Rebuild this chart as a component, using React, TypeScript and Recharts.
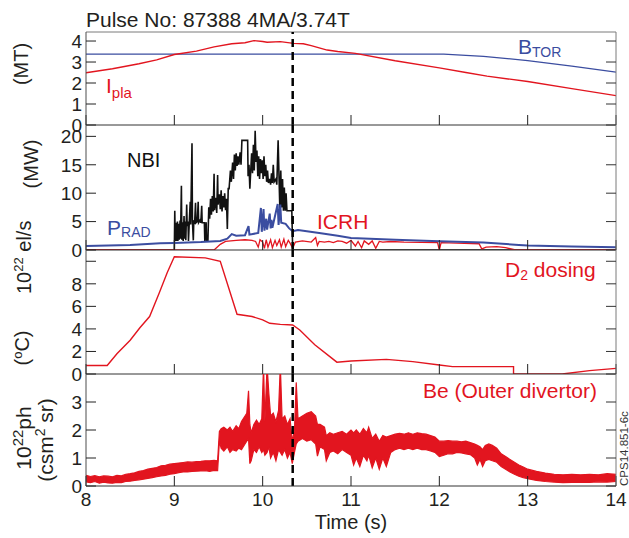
import React from 'react';
import { LineChart, ComposedChart, Line, Area, XAxis, YAxis, ReferenceLine } from 'recharts';

const FONT = '"Liberation Sans", Arial, Helvetica, sans-serif';
const RED = '#e2151f';
const BLUE = '#3b4da0';
const INK = '#231f20';
const AXIS_L = '#4d4d4d';
const AXIS_R = '#7a7a7a';

const W = 629;

// time axis
const timeTicks = [8, 9, 10, 11, 12, 13, 14];
const markerTime = 10.34;

// panel tick sets
const fieldTicks = [0, 1, 2, 3, 4];
const powerTicks = [0, 5, 10, 15, 20];
const dosingTicks = [0, 2, 4, 6, 8, 10];
const beTicks = [0, 1, 2, 3];

// (MT) panel
const ipla: [number, number][] = [
  [8, 2.49], [8.3, 2.68], [8.6, 2.92], [8.8, 3.1], [9.0, 3.36], [9.25, 3.52], [9.45, 3.72],
  [9.65, 3.87], [9.8, 3.92], [9.9, 4.02], [10.0, 3.98], [10.05, 3.94], [10.2, 3.97], [10.35, 3.89],
  [10.46, 3.87], [10.55, 3.78], [10.65, 3.66], [10.73, 3.57], [10.85, 3.5], [11.05, 3.41],
  [11.5, 3.06], [12.0, 2.72], [12.3, 2.5], [12.54, 2.33], [13.0, 2.07], [13.5, 1.73], [14, 1.4],
];
const btor: [number, number][] = [
  [8, 3.38], [12.05, 3.38], [12.5, 3.27], [13, 3.07], [13.5, 2.8], [14, 2.52],
];

// (MW) panel
const nbi: [number, number][] = [
  [8, 0], [9.0, 0], [9.005, 6.9], [9.01, 1.6], [9.02, 4.8], [9.025, 1.6], [9.035, 5.0], [9.04, 1.6],
  [9.05, 4.6], [9.055, 1.8], [9.065, 5.2], [9.07, 2.0], [9.08, 11.3], [9.085, 1.8], [9.095, 4.9],
  [9.1, 1.6], [9.11, 6.0], [9.115, 2.0], [9.125, 5.0], [9.13, 1.7], [9.14, 8.0], [9.145, 4.2],
  [9.155, 5.0], [9.16, 1.6], [9.17, 5.2], [9.18, 8.5], [9.185, 4.5], [9.2, 18.8], [9.205, 5.0],
  [9.215, 1.7], [9.22, 5.0], [9.23, 4.8], [9.24, 8.3], [9.245, 4.8], [9.26, 5.0], [9.27, 8.5],
  [9.275, 4.8], [9.29, 5.2], [9.3, 4.8], [9.31, 7.8], [9.315, 4.8], [9.34, 4.8], [9.345, 1.6],
  [9.36, 4.9], [9.365, 1.6], [9.38, 1.6], [9.39, 7.5], [9.4, 5.5], [9.41, 9.0], [9.42, 6.2],
  [9.43, 9.5], [9.44, 6.8], [9.45, 13.4], [9.455, 7.0], [9.47, 9.2], [9.48, 6.5], [9.49, 13.2],
  [9.495, 8.0], [9.51, 9.8], [9.52, 7.2], [9.53, 10.5], [9.54, 6.8], [9.55, 9.5], [9.56, 7.5],
  [9.57, 10.0], [9.58, 7.0], [9.59, 9.0], [9.6, 3.7], [9.61, 10.8], [9.62, 10.8], [9.635, 14.0],
  [9.645, 12.0], [9.66, 15.4], [9.67, 12.5], [9.68, 16.8], [9.69, 14.0], [9.7, 17.0], [9.71, 14.8],
  [9.72, 16.5], [9.73, 15.0], [9.745, 17.2], [9.755, 15.0], [9.765, 19.3], [9.83, 19.3],
  [9.835, 13.0], [9.845, 15.0], [9.855, 10.8], [9.865, 14.0], [9.875, 17.0], [9.885, 13.5],
  [9.895, 18.5], [9.905, 14.0], [9.915, 21.0], [9.925, 15.5], [9.935, 17.5], [9.945, 13.0],
  [9.955, 16.5], [9.965, 12.5], [9.975, 16.0], [9.985, 13.5], [9.995, 15.8], [10.005, 12.5],
  [10.015, 16.5], [10.025, 13.0], [10.035, 15.0], [10.045, 12.0], [10.055, 14.0], [10.065, 11.8],
  [10.08, 12.5], [10.09, 11.5], [10.1, 13.5], [10.11, 11.8], [10.12, 15.0], [10.13, 12.0],
  [10.15, 12.5], [10.16, 11.5], [10.175, 19.3], [10.185, 13.0], [10.195, 7.0], [10.205, 14.0],
  [10.215, 7.5], [10.225, 12.5], [10.235, 6.9], [10.245, 11.0], [10.255, 6.9], [10.265, 10.0],
  [10.275, 6.9], [10.33, 6.9], [10.34, 0], [14, 0],
];
const prad: [number, number][] = [
  [8, 0.7], [8.5, 0.9], [8.84, 1.18], [9.0, 1.25], [9.3, 1.4], [9.52, 1.6], [9.6, 2.0], [9.65, 2.8],
  [9.7, 2.5], [9.8, 2.6], [9.84, 4.2], [9.85, 2.7], [9.95, 3.0], [9.98, 7.4], [9.99, 3.2],
  [10.01, 7.2], [10.02, 3.4], [10.04, 5.5], [10.05, 3.6], [10.08, 6.4], [10.09, 3.8], [10.1, 5.3],
  [10.11, 3.9], [10.17, 8.1], [10.18, 4.4], [10.2, 8.0], [10.21, 4.8], [10.26, 4.6], [10.3, 3.8],
  [10.34, 3.3], [10.4, 3.5], [10.5, 3.3], [10.64, 3.0], [10.85, 2.5], [11.0, 2.1], [11.5, 1.8],
  [12.0, 1.55], [12.5, 1.3], [12.9, 0.9], [13.0, 0.8], [13.5, 0.6], [14, 0.5],
];
const icrh: [number, number][] = [
  [8, 0], [9.45, 0], [9.52, 1.0], [9.58, 1.5], [9.7, 1.7], [9.8, 1.8], [9.88, 1.7], [9.92, 1.5],
  [9.95, 0.5], [9.97, 1.8], [10.0, 1.4], [10.02, 0.3], [10.04, 1.8], [10.06, 0.5], [10.09, 1.8],
  [10.11, 0.4], [10.14, 1.7], [10.16, 0.8], [10.19, 1.8], [10.21, 0.5], [10.24, 1.9], [10.26, 0.6],
  [10.29, 1.7], [10.31, 1.2], [10.34, 0.3], [10.37, 1.4], [10.45, 1.6], [10.55, 1.4], [10.6, 2.2],
  [10.62, 0.8], [10.64, 1.5], [10.7, 1.4], [10.75, 1.5], [10.8, 1.3], [10.85, 1.6], [10.9, 1.5],
  [10.95, 1.2], [11.0, 1.7], [11.05, 0.7], [11.08, 1.5], [11.12, 0.4], [11.15, 1.6], [11.2, 1.0],
  [11.24, 1.6], [11.28, 0.3], [11.32, 1.5], [11.36, 1.4], [11.45, 1.5], [11.6, 1.4], [11.8, 1.35],
  [11.98, 1.3], [12.0, 0], [12.02, 1.3], [12.2, 1.2], [12.45, 1.1], [12.48, 0.2], [12.53, 0.5],
  [12.65, 0.6], [12.75, 0.4], [12.85, 0.05], [13.0, 0], [14, 0],
];

// D2 dosing panel
const d2: [number, number][] = [
  [8, 0.75], [8.24, 0.75], [8.35, 1.8], [8.5, 3.0], [8.61, 4.1], [8.72, 5.1], [8.83, 7.2],
  [8.92, 9.0], [9.0, 10.4], [9.35, 10.3], [9.52, 10.0], [9.71, 5.3], [9.88, 5.1], [10.0, 4.8],
  [10.08, 4.5], [10.2, 4.4], [10.34, 4.35], [10.42, 3.9], [10.59, 2.6], [10.84, 1.05], [11.0, 1.15],
  [11.4, 1.3], [11.7, 1.1], [12.0, 0.8], [12.15, 0.65], [12.84, 0.65], [12.84, 0], [13.39, 0],
  [13.7, 0.3], [14, 0.5],
];

// Be (outer divertor) band: [time, low, high]
const be: [number, number, number][] = [
  [8.0, 0.15, 0.38], [8.05, 0.12, 0.34], [8.1, 0.16, 0.37], [8.15, 0.1, 0.33], [8.2, 0.14, 0.36],
  [8.25, 0.11, 0.35], [8.3, 0.1, 0.33], [8.35, 0.13, 0.38], [8.4, 0.12, 0.36], [8.45, 0.16, 0.42],
  [8.5, 0.17, 0.44], [8.55, 0.2, 0.47], [8.6, 0.22, 0.52], [8.65, 0.24, 0.55], [8.7, 0.27, 0.6],
  [8.75, 0.3, 0.63], [8.8, 0.33, 0.66], [8.85, 0.36, 0.72], [8.9, 0.38, 0.74], [8.95, 0.42, 0.78],
  [9.0, 0.44, 0.8], [9.05, 0.48, 0.82], [9.1, 0.5, 0.84], [9.15, 0.5, 0.86], [9.2, 0.52, 0.85],
  [9.25, 0.53, 0.87], [9.3, 0.54, 0.88], [9.35, 0.55, 0.9], [9.4, 0.52, 0.9], [9.45, 0.56, 0.92],
  [9.49, 0.55, 0.9], [9.51, 1.6, 1.95], [9.53, 1.35, 2.05], [9.56, 1.25, 2.1], [9.6, 1.4, 2.0],
  [9.63, 1.2, 2.1], [9.66, 1.3, 1.95], [9.7, 1.25, 2.15], [9.73, 1.35, 2.05], [9.76, 1.3, 2.3],
  [9.8, 1.5, 2.5], [9.82, 1.6, 2.6], [9.84, 1.7, 3.4], [9.855, 0.8, 2.2], [9.87, 0.9, 1.9],
  [9.9, 1.3, 2.2], [9.93, 1.2, 2.35], [9.96, 1.4, 2.2], [9.99, 1.2, 2.4], [10.01, 1.3, 4.3],
  [10.025, 1.1, 2.3], [10.05, 1.2, 4.3], [10.07, 1.4, 3.3], [10.09, 1.0, 2.5], [10.12, 1.2, 2.6],
  [10.15, 0.9, 2.3], [10.18, 1.3, 2.7], [10.2, 1.2, 4.3], [10.22, 1.1, 2.4], [10.25, 1.3, 2.5],
  [10.28, 1.0, 2.2], [10.31, 1.2, 2.4], [10.335, 0.8, 1.6], [10.36, 1.2, 2.0], [10.38, 1.5, 3.7],
  [10.4, 1.6, 2.4], [10.45, 1.7, 2.5], [10.5, 1.6, 2.6], [10.55, 1.65, 2.65], [10.6, 1.5, 2.5],
  [10.62, 1.07, 2.2], [10.65, 1.4, 2.2], [10.7, 1.3, 2.1], [10.72, 0.9, 1.8], [10.76, 1.2, 1.9],
  [10.8, 1.25, 1.85], [10.85, 1.15, 1.9], [10.9, 1.3, 1.95], [10.95, 1.2, 1.85], [11.0, 1.1, 2.0],
  [11.03, 0.75, 1.9], [11.06, 1.0, 2.0], [11.1, 0.7, 1.85], [11.14, 1.1, 2.05], [11.18, 0.9, 1.9],
  [11.2, 1.1, 2.1], [11.24, 0.65, 1.7], [11.28, 1.0, 1.85], [11.32, 0.6, 1.6], [11.36, 1.0, 1.8],
  [11.4, 0.7, 1.75], [11.45, 1.2, 1.8], [11.5, 1.3, 1.85], [11.55, 1.35, 1.88], [11.6, 1.3, 1.85],
  [11.65, 1.35, 1.9], [11.7, 1.3, 1.85], [11.75, 1.35, 1.9], [11.8, 1.3, 1.87], [11.85, 1.3, 1.85],
  [11.9, 1.25, 1.8], [11.95, 1.2, 1.75], [12.0, 1.05, 1.6], [12.05, 1.1, 1.6], [12.1, 1.15, 1.62],
  [12.15, 1.15, 1.6], [12.2, 1.2, 1.6], [12.25, 1.18, 1.58], [12.3, 1.15, 1.6], [12.35, 1.12, 1.55],
  [12.4, 1.0, 1.5], [12.43, 0.75, 1.45], [12.46, 0.95, 1.4], [12.49, 0.7, 1.3], [12.52, 0.9, 1.45],
  [12.56, 0.95, 1.5], [12.6, 0.9, 1.45], [12.65, 0.85, 1.35], [12.7, 0.7, 1.15], [12.75, 0.6, 1.05],
  [12.8, 0.5, 0.95], [12.85, 0.42, 0.85], [12.9, 0.35, 0.75], [12.95, 0.3, 0.68], [13.0, 0.26, 0.6],
  [13.1, 0.2, 0.52], [13.2, 0.16, 0.46], [13.3, 0.14, 0.42], [13.4, 0.12, 0.4], [13.5, 0.13, 0.42],
  [13.6, 0.14, 0.4], [13.7, 0.13, 0.42], [13.8, 0.15, 0.4], [13.9, 0.14, 0.44], [14.0, 0.16, 0.42],
];

const pts = (a: [number, number][]) => a.map(([t, v]) => ({ t, v }));
const bePts = be.map(([t, lo, hi]) => ({ t, r: [lo, hi] }));

const tickStyle = { fill: INK, fontSize: 19, fontFamily: FONT };
const blank = () => '';

const xAxisFor = (labels: boolean, h: number) => (
  <XAxis
    xAxisId="t"
    type="number"
    dataKey="t"
    domain={[8, 14]}
    ticks={timeTicks}
    interval={0}
    allowDataOverflow
    height={h}
    tickSize={-10}
    tickMargin={17}
    stroke="#333"
    tickLine={{ stroke: '#222' }}
    tick={tickStyle}
    tickFormatter={labels ? undefined : blank}
  />
);

const yAxesFor = (max: number, ticks: number[], fmt?: (v: number) => string) => [
  <YAxis
    key="l"
    yAxisId="l"
    type="number"
    domain={[0, max]}
    ticks={ticks}
    interval={0}
    allowDataOverflow
    width={86}
    tickSize={-10}
    tickMargin={14}
    stroke={AXIS_L}
    tickLine={{ stroke: '#222' }}
    tick={tickStyle}
    tickFormatter={fmt}
  />,
  <YAxis
    key="r"
    yAxisId="r"
    orientation="right"
    type="number"
    domain={[0, max]}
    ticks={ticks}
    interval={0}
    allowDataOverflow
    width={13}
    tickSize={-10}
    tickMargin={4}
    stroke={AXIS_R}
    tickLine={{ stroke: '#333' }}
    tick={tickStyle}
    tickFormatter={blank}
  />,
];

const marker = (
  <ReferenceLine
    xAxisId="t"
    yAxisId="l"
    x={markerTime}
    stroke="#000"
    strokeWidth={2.5}
    strokeDasharray="8 5"
  />
);

const layer: React.CSSProperties = { position: 'absolute', left: 0, top: 0 };

export default function App() {
  return (
    <div style={{ position: 'absolute', left: 0, top: 0, width: W, height: 538, background: '#fff', fontFamily: FONT }}>
      {/* Panel 1: field & current */}
      <div style={layer}>
        <LineChart width={W} height={150} margin={{ top: 32, right: 0, bottom: 0, left: 0 }}>
          {xAxisFor(false, 25)}
          {yAxesFor(4.43, fieldTicks)}
          <ReferenceLine xAxisId="t" yAxisId="l" y={4.43} stroke={AXIS_R} />
          <Line xAxisId="t" yAxisId="l" data={pts(btor)} dataKey="v" type="linear" stroke={BLUE} strokeWidth={1.2} dot={false} isAnimationActive={false} />
          <Line xAxisId="t" yAxisId="l" data={pts(ipla)} dataKey="v" type="linear" stroke={RED} strokeWidth={1.4} dot={false} isAnimationActive={false} />
          {marker}
        </LineChart>
      </div>

      {/* Panel 2: heating powers */}
      <div style={layer}>
        <LineChart width={W} height={275} margin={{ top: 125, right: 0, bottom: 0, left: 0 }}>
          {xAxisFor(false, 25)}
          {yAxesFor(22, powerTicks)}
          <Line xAxisId="t" yAxisId="l" data={pts(nbi)} dataKey="v" type="linear" stroke="#111" strokeWidth={1.6} dot={false} isAnimationActive={false} />
          <Line xAxisId="t" yAxisId="l" data={pts(icrh)} dataKey="v" type="linear" stroke={RED} strokeWidth={1.3} dot={false} isAnimationActive={false} />
          <Line xAxisId="t" yAxisId="l" data={pts(prad)} dataKey="v" type="linear" stroke={BLUE} strokeWidth={2} dot={false} isAnimationActive={false} />
          {marker}
        </LineChart>
      </div>

      {/* Panel 3: D2 dosing */}
      <div style={layer}>
        <LineChart width={W} height={399} margin={{ top: 250, right: 0, bottom: 0, left: 0 }}>
          {xAxisFor(false, 25)}
          {yAxesFor(11, dosingTicks, (v: number) => (v === 10 ? '' : String(v)))}
          <Line xAxisId="t" yAxisId="l" data={pts(d2)} dataKey="v" type="linear" stroke={RED} strokeWidth={1.4} dot={false} isAnimationActive={false} />
          {marker}
        </LineChart>
      </div>

      {/* Panel 4: Be outer divertor */}
      <div style={layer}>
        <ComposedChart width={W} height={538} margin={{ top: 374, right: 0, bottom: 0, left: 0 }}>
          {xAxisFor(true, 52)}
          {yAxesFor(4, beTicks)}
          <Area xAxisId="t" yAxisId="l" data={bePts} dataKey="r" type="linear" stroke={RED} strokeWidth={1.2} fill={RED} fillOpacity={1} dot={false} activeDot={false} isAnimationActive={false} />
          {marker}
        </ComposedChart>
      </div>

      {/* Texts */}
      <svg width={W} height={538} style={{ ...layer, pointerEvents: 'none' }} fontFamily={FONT}>
        <text x={86} y={27} fontSize={21} fill={INK}>Pulse No: 87388 4MA/3.74T</text>

        <text transform="translate(28,64) rotate(-90)" textAnchor="middle" fontSize={20} fill={INK}>(MT)</text>
        <text transform="translate(38,164) rotate(-90)" textAnchor="middle" fontSize={20} fill={INK}>(MW)</text>
        <text transform="translate(31,294) rotate(-90)" fontSize={20} fill={INK}>
          10<tspan fontSize={13} dy={-8}>22</tspan><tspan dy={8}>{' el/s'}</tspan>
        </text>
        <text transform="translate(29,348) rotate(-90)" textAnchor="middle" fontSize={20} fill={INK}>
          (<tspan fontSize={13} dy={-7}>o</tspan><tspan dy={7}>C)</tspan>
        </text>
        <text transform="translate(31,438) rotate(-90)" textAnchor="middle" fontSize={21} fill={INK}>
          10<tspan fontSize={15} dy={-8}>22</tspan><tspan dy={8}>ph</tspan>
        </text>
        <text transform="translate(53,440) rotate(-90)" textAnchor="middle" fontSize={21} fill={INK}>
          (csm<tspan fontSize={14} dy={-8}>2</tspan><tspan dy={8}>{' sr)'}</tspan>
        </text>
        <text transform="translate(628,486) rotate(-90)" fontSize={11.5} fill="#333">CPS14.851-6c</text>

        <text x={106} y={93} fontSize={21} fill={RED}>I<tspan fontSize={15} dy={5}>pla</tspan></text>
        <text x={518} y={54} fontSize={21} fill={BLUE}>B<tspan fontSize={14} dy={3}>TOR</tspan></text>
        <text x={127} y={167} fontSize={20} fill="#111">NBI</text>
        <text x={107} y={235} fontSize={21} fill={BLUE}>P<tspan fontSize={14} dy={2}>RAD</tspan></text>
        <text x={317} y={229} fontSize={21} fill={RED}>ICRH</text>
        <text x={505} y={277} fontSize={21} fill={RED}>D<tspan fontSize={14} dy={3}>2</tspan><tspan dy={-3}>{' dosing'}</tspan></text>
        <text x={423} y={398} fontSize={21} fill={RED}>Be (Outer divertor)</text>

        <text x={351} y={529} textAnchor="middle" fontSize={20} fill={INK}>Time (s)</text>
      </svg>
    </div>
  );
}
